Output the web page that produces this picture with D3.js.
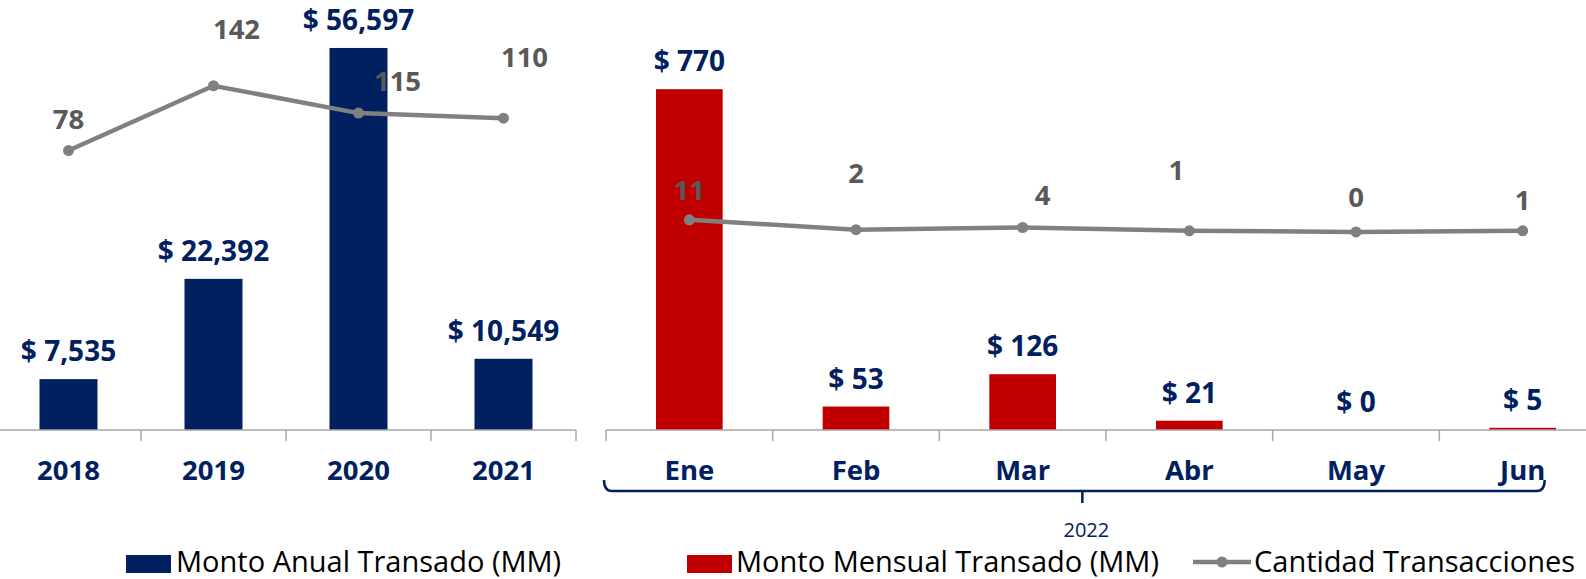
<!DOCTYPE html>
<html>
<head>
<meta charset="utf-8">
<script src="https://cdn.jsdelivr.net/npm/d3@7"></script>
<style>
  body { margin: 0; background: #fff; }
  svg { display: block; font-family: "Open Sans", sans-serif; }
</style>
</head>
<body>
<div id="chart"></div>
<script>
// yearly data
const years = ["2018", "2019", "2020", "2021"];
const montoAnual = [7535, 22392, 56597, 10549];
const cantAnual = [78, 142, 115, 110];

// monthly data (2022)
const meses = ["Ene", "Feb", "Mar", "Abr", "May", "Jun"];
const montoMensual = [770, 53, 126, 21, 0, 5];
const cantMensual = [11, 2, 4, 1, 0, 1];

const periodo = "2022";
const legendLabels = ["Monto Anual Transado (MM)", "Monto Mensual Transado (MM)", "Cantidad Transacciones"];

// manual nudges for the count labels (like in the original sheet)
const nudgeAnual = [[0, -32], [23, -57], [39, -32], [21, -61]];
const nudgeMensual = [[0, -30], [0, -57], [20, -33], [-13, -61], [0, -35], [0, -31]];

const width = 1586, height = 579;
const navy = "#002060", red = "#C00000", gray = "#808080", labelGray = "#595959";

const svg = d3.select("#chart").append("svg")
  .attr("width", width)
  .attr("height", height);

const plotTop = 25, base = 430;

function fmt(v) {
  return "$ " + d3.format(",")(v);
}

function drawPanel(opts) {
  let x = d3.scaleBand()
    .domain(opts.cats)
    .range(opts.xRange)
    .paddingInner(0.6)
    .paddingOuter(0.3);
  let y = d3.scaleLinear().domain([0, opts.yMax]).range([base, plotTop]);
  let y2 = d3.scaleLinear().domain(opts.y2Domain).range([base, plotTop]);

  let g = svg.append("g");

  // bars
  g.selectAll("rect.bar")
    .data(opts.values)
    .join("rect")
    .attr("class", "bar")
    .attr("x", (d, i) => x(opts.cats[i]))
    .attr("width", x.bandwidth())
    .attr("y", d => y(d))
    .attr("height", d => base - y(d))
    .attr("fill", opts.color);

  // axis line + separators
  let axisEnd = Math.min(opts.xRange[1], width);
  g.append("line")
    .attr("x1", opts.axisStart).attr("x2", axisEnd)
    .attr("y1", base).attr("y2", base)
    .attr("stroke", "#a6a6a6").attr("stroke-width", 1.5);

  let seps = d3.range(opts.cats.length + 1).map(i => opts.xRange[0] + i * x.step());
  g.selectAll("line.sep")
    .data(seps.filter(s => s >= 1 && s <= width))
    .join("line")
    .attr("class", "sep")
    .attr("x1", d => d).attr("x2", d => d)
    .attr("y1", base).attr("y2", base + 11)
    .attr("stroke", "#a6a6a6").attr("stroke-width", 1.5);

  // category labels
  let axis = d3.axisBottom(x).tickSize(0).tickPadding(0);
  let ag = g.append("g").attr("transform", `translate(0,${base})`).call(axis);
  ag.select(".domain").remove();
  ag.selectAll("text")
    .attr("y", 50)
    .attr("dy", 0)
    .attr("font-family", "Open Sans")
    .attr("font-size", 27.5)
    .attr("font-weight", 700)
    .attr("fill", navy);

  // bar labels
  g.selectAll("text.barlab")
    .data(opts.values)
    .join("text")
    .attr("class", "barlab")
    .attr("x", (d, i) => x(opts.cats[i]) + x.bandwidth() / 2)
    .attr("y", d => y(d) - 18)
    .attr("text-anchor", "middle")
    .attr("font-size", 28)
    .attr("font-weight", 700)
    .attr("fill", navy)
    .text(d => fmt(d));

  // count line
  let pts = opts.counts.map((c, i) => [x(opts.cats[i]) + x.bandwidth() / 2, y2(c)]);
  g.append("path")
    .datum(pts)
    .attr("d", d3.line())
    .attr("fill", "none")
    .attr("stroke", gray)
    .attr("stroke-width", 4.5);

  g.selectAll("circle.pt")
    .data(pts)
    .join("circle")
    .attr("class", "pt")
    .attr("cx", d => d[0]).attr("cy", d => d[1])
    .attr("r", 5.5)
    .attr("fill", gray);

  g.selectAll("text.cnt")
    .data(opts.counts)
    .join("text")
    .attr("class", "cnt")
    .attr("x", (d, i) => pts[i][0] + opts.nudge[i][0])
    .attr("y", (d, i) => pts[i][1] + opts.nudge[i][1] + 10)
    .attr("text-anchor", "middle")
    .attr("font-size", 27.5)
    .attr("font-weight", 700)
    .attr("fill", labelGray)
    .text(d => d);

  return x;
}

drawPanel({
  cats: years, values: montoAnual, counts: cantAnual, color: navy,
  xRange: [-4, 576], axisStart: 0, yMax: 60000, y2Domain: [-198, 202], nudge: nudgeAnual
});

let xM = drawPanel({
  cats: meses, values: montoMensual, counts: cantMensual, color: red,
  xRange: [606, 1606], axisStart: 606, yMax: 915, y2Domain: [-180, 188], nudge: nudgeMensual
});

// bracket grouping the months under 2022
let bx0 = xM.range()[0] - 2;
let bx1 = xM(meses[meses.length - 1]) + xM.bandwidth() / 2 + 22;
let by = 491;
let bmid = (bx0 + bx1) / 2 + 8;
svg.append("path")
  .attr("d", `M${bx0},${by - 11} Q${bx0},${by} ${bx0 + 8},${by} L${bx1 - 8},${by} Q${bx1},${by} ${bx1},${by - 11}`)
  .attr("fill", "none")
  .attr("stroke", navy)
  .attr("stroke-width", 2.5);
svg.append("line")
  .attr("x1", bmid).attr("x2", bmid)
  .attr("y1", by).attr("y2", by + 12)
  .attr("stroke", navy)
  .attr("stroke-width", 2.5);
svg.append("text")
  .attr("x", bmid + 4)
  .attr("y", 537)
  .attr("text-anchor", "middle")
  .attr("font-size", 20)
  .attr("fill", navy)
  .text(periodo);

// legend
let legend = svg.append("g").attr("font-size", 29).attr("fill", "#000");
let ly = 572;
legend.append("rect").attr("x", 126).attr("y", 555).attr("width", 45).attr("height", 18).attr("fill", navy);
legend.append("text").attr("x", 176).attr("y", ly).text(legendLabels[0]);
legend.append("rect").attr("x", 687).attr("y", 555).attr("width", 45).attr("height", 18).attr("fill", red);
legend.append("text").attr("x", 736).attr("y", ly).text(legendLabels[1]);
legend.append("line").attr("x1", 1193).attr("x2", 1251).attr("y1", 562).attr("y2", 562)
  .attr("stroke", gray).attr("stroke-width", 4.5);
legend.append("circle").attr("cx", 1222).attr("cy", 562).attr("r", 5.5).attr("fill", gray);
legend.append("text").attr("x", 1254).attr("y", ly).text(legendLabels[2]);
</script>
</body>
</html>
